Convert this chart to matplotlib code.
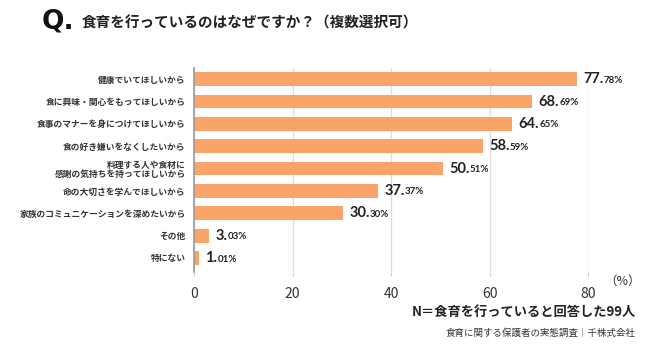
import matplotlib.pyplot as plt

plt.rcParams['font.family'] = ['Noto Sans CJK JP', 'DejaVu Sans']

# データ
categories = [
    "健康でいてほしいから",
    "食に興味・関心をもってほしいから",
    "食事のマナーを身につけてほしいから",
    "食の好き嫌いをなくしたいから",
    "料理する人や食材に\n感謝の気持ちを持ってほしいから",
    "命の大切さを学んでほしいから",
    "家族のコミュニケーションを深めたいから",
    "その他",
    "特にない",
]
values = [77.78, 68.69, 64.65, 58.59, 50.51, 37.37, 30.30, 3.03, 1.01]
xticks = [0, 20, 40, 60, 80]

title = "食育を行っているのはなぜですか？（複数選択可）"
note_n = "N＝食育を行っていると回答した99人"
source = "食育に関する保護者の実態調査｜千株式会社"

BAR = "#FBA46A"

fig = plt.figure(figsize=(6.5, 3.53), dpi=100)
ax = fig.add_axes([194 / 650, 1 - 272 / 353, (588 - 194) / 650, (272 - 68) / 353])

pos = list(range(len(categories)))
ax.barh(pos, values, height=0.62, color=BAR, zorder=3)
ax.set_ylim(8.63, -0.5)
ax.set_xlim(0, 80)

ax.set_yticks(pos)
ax.set_yticklabels(categories, fontsize=6.3, fontweight="bold", color="#333333",
                   linespacing=1.1)
ax.set_xticks(xticks)
ax.set_xticklabels([str(t) for t in xticks], fontsize=10, color="#333333")
ax.tick_params(axis="y", length=0, pad=6)
ax.tick_params(axis="x", length=3, color="#cccccc", pad=8)

ax.grid(axis="x", color="#dddddd", linewidth=0.9, zorder=0)
for s in ["top", "right", "bottom"]:
    ax.spines[s].set_visible(False)
ax.spines["left"].set_color("#999999")
ax.spines["left"].set_linewidth(1.2)
ax.spines["left"].set_zorder(4)

# 値ラベル（整数部を大きく、小数部を小さく）
for p, v in zip(pos, values):
    whole, frac = f"{v:.2f}".split(".")
    t = ax.text(v + 1.3, p, whole + ".", fontsize=10.5, fontweight="bold",
                va="center", ha="left", color="#222222", clip_on=False,
                family=["Lato"])
    ax.annotate(frac + "%", xy=(1, 0.1), xycoords=t, fontsize=7,
                fontweight="bold", va="bottom", ha="left", color="#222222",
                annotation_clip=False, family=["Lato"])

fig.text(604 / 650, 1 - 281 / 353, "（%）", fontsize=9, color="#333333",
         ha="left", va="center")

fig.text(42 / 650, 1 - 22 / 353, "Q.", fontsize=19, fontweight="bold",
         color="#111111", va="center", ha="left", family=["DejaVu Sans"])
fig.text(82 / 650, 1 - 23 / 353, title, fontsize=10.5, fontweight="bold",
         color="#222222", va="center", ha="left")

fig.text(636 / 650, 1 - 312 / 353, note_n, fontsize=9.5, fontweight="bold",
         color="#222222", va="center", ha="right")
fig.text(636 / 650, 1 - 333 / 353, source, fontsize=6.8, color="#333333",
         va="center", ha="right")

fig.savefig("out.png", dpi=100)
